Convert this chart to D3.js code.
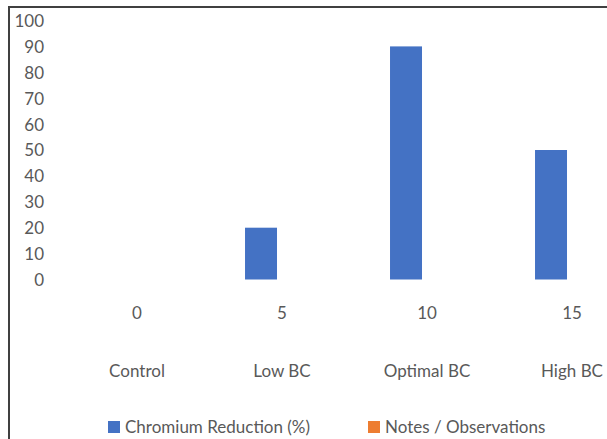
<!DOCTYPE html>
<html>
<head>
<meta charset="utf-8">
<script src="https://cdn.jsdelivr.net/npm/d3@7/dist/d3.min.js"></script>
<style>
  html, body { margin: 0; padding: 0; background: #fff; overflow: hidden; }
  svg { display: block; }
  text { font-family: Lato, "Open Sans", sans-serif; fill: #595959; }
</style>
</head>
<body>
<svg id="chart" width="607" height="439"></svg>
<script>
// Chart data
const categories = ["Control", "Low BC", "Optimal BC", "High BC"];
const dosageLabels = ["0", "5", "10", "15"];
const chromiumReduction = [0, 20, 90, 50];
const notesObservations = [null, null, null, null];
const seriesNames = ["Chromium Reduction (%)", "Notes / Observations"];
const seriesColors = ["#4472C4", "#ED7D31"];
const yTicks = [0, 10, 20, 30, 40, 50, 60, 70, 80, 90, 100];

const svg = d3.select("#chart");
const W = 607, H = 439;
const FS = 17;

// Frame of the chart area
svg.append("path")
  .attr("d", `M9,${H + 2} L9,7 L${W + 2},7`)
  .attr("fill", "none")
  .attr("stroke", "#404040")
  .attr("stroke-width", 2);

// Scales
const x = d3.scaleBand()
  .domain(categories)
  .range([64.5, 644.5])
  .paddingInner(0.49)
  .paddingOuter(0.245);

const xs = d3.scaleBand()
  .domain(seriesNames)
  .range([0, x.bandwidth()])
  .paddingInner(0.238)
  .paddingOuter(0);

const y = d3.scaleLinear().domain([0, 100]).range([279.5, 20.5]);

// Y axis (labels only)
const yAxis = d3.axisLeft(y).tickValues(yTicks).tickSize(0).tickPadding(0);
const yg = svg.append("g").attr("transform", "translate(44,0)").call(yAxis);
yg.select(".domain").remove();
yg.selectAll("text")
  .attr("font-size", FS)
  .attr("font-family", "Lato, 'Open Sans', sans-serif")
  .attr("fill", "#595959")
  .attr("dy", "0.35em");

// Bars
const seriesData = [chromiumReduction, notesObservations];
seriesData.forEach((vals, si) => {
  svg.append("g")
    .selectAll("rect")
    .data(categories.map((c, i) => ({ c, v: vals[i] })).filter(d => d.v != null && d.v > 0))
    .join("rect")
    .attr("x", d => x(d.c) + xs(seriesNames[si]))
    .attr("y", d => y(d.v))
    .attr("width", xs.bandwidth())
    .attr("height", d => y(0) - y(d.v))
    .attr("fill", seriesColors[si]);
});

// Two-level category labels
const xAxisTop = d3.axisBottom(x).tickSize(0).tickPadding(0)
  .tickFormat((d, i) => dosageLabels[i]);
const xg1 = svg.append("g").attr("transform", "translate(0,313)").call(xAxisTop);
xg1.select(".domain").remove();
xg1.selectAll("text").attr("font-size", FS).attr("dy", "0.35em")
  .attr("font-family", "Lato, 'Open Sans', sans-serif").attr("fill", "#595959");

const xAxisBottom = d3.axisBottom(x).tickSize(0).tickPadding(0);
const xg2 = svg.append("g").attr("transform", "translate(0,371)").call(xAxisBottom);
xg2.select(".domain").remove();
xg2.selectAll("text").attr("font-size", FS).attr("dy", "0.35em")
  .attr("font-family", "Lato, 'Open Sans', sans-serif").attr("fill", "#595959");

// Legend
const legendX = [108, 368];
const legend = svg.append("g");
seriesNames.forEach((name, i) => {
  legend.append("rect")
    .attr("x", legendX[i]).attr("y", 421)
    .attr("width", 12).attr("height", 12)
    .attr("fill", seriesColors[i]);
  legend.append("text")
    .attr("x", legendX[i] + 17).attr("y", 427)
    .attr("dy", "0.35em")
    .attr("font-size", FS)
    .text(name);
});
</script>
</body>
</html>
